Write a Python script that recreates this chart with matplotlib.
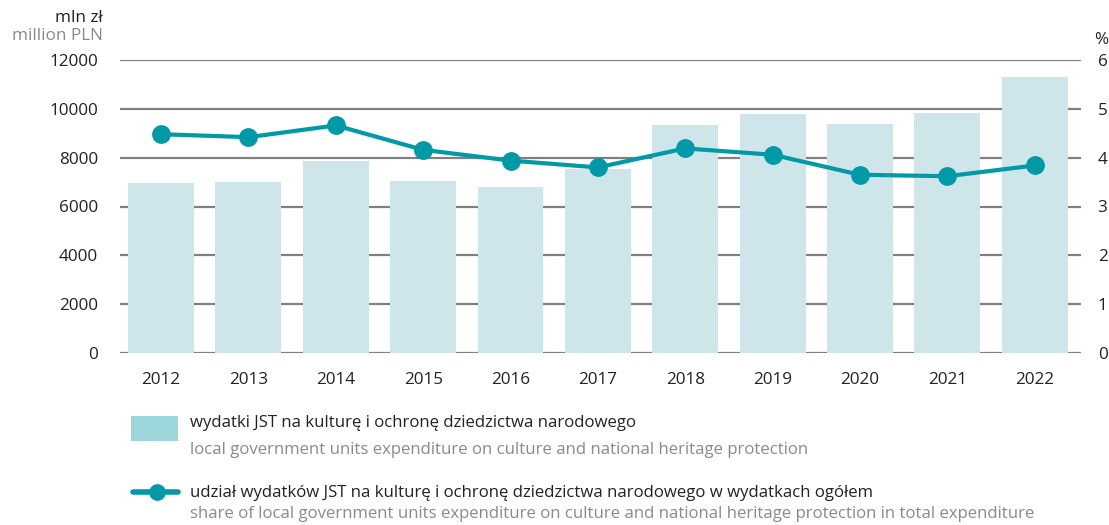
import matplotlib
matplotlib.use("Agg")
import matplotlib.pyplot as plt
from matplotlib.patches import Rectangle
from matplotlib.lines import Line2D

years = ["2012", "2013", "2014", "2015", "2016", "2017", "2018", "2019", "2020", "2021", "2022"]
expenditure = [6950, 7000, 7850, 7040, 6800, 7530, 9340, 9790, 9380, 9830, 11300]
share = [4.48, 4.42, 4.66, 4.16, 3.94, 3.80, 4.19, 4.06, 3.65, 3.62, 3.84]
left_ticks = [0, 2000, 4000, 6000, 8000, 10000, 12000]
right_ticks = [0, 1, 2, 3, 4, 5, 6]

legend_pl_1 = "wydatki JST na kulturę i ochronę dziedzictwa narodowego"
legend_en_1 = "local government units expenditure on culture and national heritage protection"
legend_pl_2 = "udział wydatków JST na kulturę i ochronę dziedzictwa narodowego w wydatkach ogółem"
legend_en_2 = "share of local government units expenditure on culture and national heritage protection in total expenditure"

plt.rcParams['font.family'] = ['Open Sans', 'DejaVu Sans']
FS = 12.3
FL = 12.05

W, H = 1109, 525
fig = plt.figure(figsize=(W / 100, H / 100), dpi=100)
L, R, T, B = 120, 1081, 60, 353
ax = fig.add_axes([L / W, 1 - B / H, (R - L) / W, (B - T) / H])

bar_color = "#cee5e9"
line_color = "#0099a6"
grid_color = "#808080"
text_color = "#222222"
gray_text = "#8a8a8a"

x = list(range(len(years)))
ax.set_xlim(-0.47, 10.53)
ax.set_ylim(0, 12000)
for t in left_ticks:
    ax.axhline(t, color=grid_color, lw=1.6, zorder=0)
ax.bar(x, expenditure, width=0.755, color=bar_color, zorder=1)
for s in ax.spines.values():
    s.set_visible(False)
ax.set_yticks(left_ticks)
ax.set_yticklabels([str(t) for t in left_ticks], fontsize=FS, color=text_color)
ax.tick_params(axis='y', length=0, pad=16)
ax.set_xticks(x)
ax.set_xticklabels(years, fontsize=FS, color=text_color)
ax.tick_params(axis='x', length=0, pad=14)

ax2 = ax.twinx()
ax2.set_ylim(0, 6)
ax2.set_yticks(right_ticks)
ax2.set_yticklabels([str(t) for t in right_ticks], fontsize=FS, color=text_color)
ax2.tick_params(axis='y', length=0, pad=12)
for s in ax2.spines.values():
    s.set_visible(False)
ax2.plot(x, share, color=line_color, lw=3.0, marker='o', markersize=12.5, zorder=3)

# axis unit labels
fig.text(103 / W, 1 - 18 / H, "mln zł", ha='right', va='center', fontsize=FS, color=text_color)
fig.text(103 / W, 1 - 36 / H, "million PLN", ha='right', va='center', fontsize=FS, color=gray_text)
fig.text(1094 / W, 1 - 40 / H, "%", ha='left', va='center', fontsize=FS, color=text_color)

# legend
fig.patches.append(Rectangle((131 / W, 1 - 441 / H), 47 / W, 25 / H, transform=fig.transFigure,
                             facecolor="#9dd6da", edgecolor='none'))
fig.text(190 / W, 1 - 423 / H, legend_pl_1, ha='left', va='center', fontsize=FL, color=text_color)
fig.text(190 / W, 1 - 450 / H, legend_en_1, ha='left', va='center', fontsize=FL, color=gray_text)
fig.lines.append(Line2D([133 / W, 178 / W], [1 - 492 / H, 1 - 492 / H], transform=fig.transFigure,
                        color=line_color, lw=4, solid_capstyle='round'))
fig.lines.append(Line2D([157 / W], [1 - 492 / H], transform=fig.transFigure, color=line_color,
                        marker='o', markersize=11, lw=0))
fig.text(190 / W, 1 - 493 / H, legend_pl_2, ha='left', va='center', fontsize=FL, color=text_color)
fig.text(190 / W, 1 - 514 / H, legend_en_2, ha='left', va='center', fontsize=FL, color=gray_text)

fig.savefig("out.png", dpi=100)
